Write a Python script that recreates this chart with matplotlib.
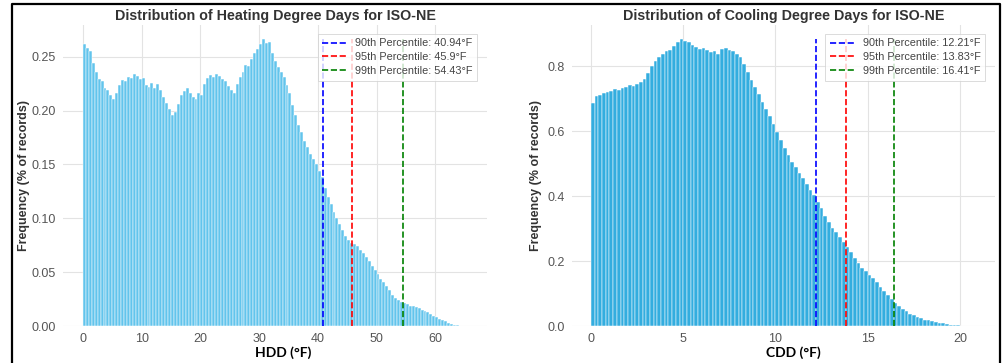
import numpy as np
import matplotlib.pyplot as plt
from matplotlib.lines import Line2D

# HDD histogram, bins of 0.5 F starting at 0 (frequency in % of records)
hdd_width = 0.5
hdd_freq = [
    0.262, 0.258, 0.255, 0.244, 0.236, 0.229, 0.227, 0.221, 0.219, 0.214,
    0.211, 0.216, 0.224, 0.228, 0.227, 0.231, 0.230, 0.234, 0.232, 0.229,
    0.230, 0.224, 0.222, 0.226, 0.221, 0.225, 0.219, 0.213, 0.207, 0.201,
    0.196, 0.199, 0.206, 0.214, 0.218, 0.221, 0.216, 0.213, 0.211, 0.216,
    0.214, 0.225, 0.230, 0.233, 0.231, 0.234, 0.232, 0.229, 0.227, 0.223,
    0.219, 0.216, 0.225, 0.231, 0.236, 0.242, 0.241, 0.248, 0.253, 0.257,
    0.262, 0.266, 0.263, 0.264, 0.253, 0.246, 0.240, 0.236, 0.231, 0.224,
    0.216, 0.205, 0.196, 0.187, 0.180, 0.172, 0.166, 0.160, 0.155, 0.150,
    0.144, 0.138, 0.128, 0.120, 0.113, 0.106, 0.100, 0.095, 0.089, 0.084,
    0.080, 0.077, 0.076, 0.074, 0.071, 0.068, 0.064, 0.060, 0.056, 0.052,
    0.048, 0.044, 0.041, 0.037, 0.033, 0.029, 0.026, 0.024, 0.022, 0.021,
    0.020, 0.019, 0.019, 0.018, 0.017, 0.015, 0.014, 0.013, 0.011, 0.0095,
    0.008, 0.0068, 0.0055, 0.0042, 0.0030, 0.0021, 0.0013, 0.0007, 0.0003,
]

# CDD histogram, bins of 0.2 F starting at 0
cdd_width = 0.2
cdd_freq = [
    0.685, 0.708, 0.712, 0.716, 0.720, 0.724, 0.728, 0.726, 0.733, 0.735,
    0.741, 0.738, 0.746, 0.751, 0.760, 0.778, 0.800, 0.815, 0.828, 0.836,
    0.845, 0.850, 0.862, 0.874, 0.882, 0.878, 0.874, 0.866, 0.860, 0.852,
    0.856, 0.849, 0.842, 0.846, 0.838, 0.852, 0.857, 0.850, 0.845, 0.838,
    0.828, 0.805, 0.783, 0.758, 0.737, 0.715, 0.690, 0.668, 0.645, 0.622,
    0.597, 0.573, 0.548, 0.525, 0.505, 0.488, 0.470, 0.455, 0.438, 0.420,
    0.403, 0.382, 0.362, 0.340, 0.320, 0.303, 0.288, 0.275, 0.260, 0.244,
    0.227, 0.210, 0.194, 0.180, 0.168, 0.158, 0.148, 0.135, 0.120, 0.108,
    0.095, 0.083, 0.071, 0.061, 0.053, 0.045, 0.038, 0.033, 0.028, 0.024,
    0.020, 0.017, 0.014, 0.012, 0.010, 0.008, 0.006, 0.004, 0.003, 0.002,
    0.001, 0.0006, 0.0003, 0.0002, 0.0001,
]

# percentiles
pct_names = ['90th', '95th', '99th']
pct_colors = ['blue', 'red', 'green']
hdd_pct = [40.94, 45.9, 54.43]
cdd_pct = [12.21, 13.83, 16.41]

plt.rcParams['font.family'] = ['Liberation Sans', 'DejaVu Sans']

fig = plt.figure(figsize=(10.03, 3.63), dpi=100)
ax1 = fig.add_axes([0.0628, 0.1019, 0.4227, 0.829])
ax2 = fig.add_axes([0.5703, 0.1019, 0.4217, 0.829])


def draw(ax, freq, width, pcts, title, face, xlim, xticks, yticks, yfmt, lpad):
    x = np.arange(len(freq)) * width
    ax.bar(x, freq, width=width, align='edge', color=face,
           edgecolor='white', linewidth=0.35, zorder=2)
    top = max(freq)
    for name, col, p in zip(pct_names, pct_colors, pcts):
        ax.vlines(p, 0, top, colors=col, linestyles='--', linewidth=1.2,
                  zorder=3, label=f'{name} Percentile: {p}°F')
    ax.set_xlim(xlim)
    ax.set_ylim(0, top * 1.05)
    ax.set_xticks(xticks)
    ax.set_yticks(yticks)
    ax.set_yticklabels([yfmt.format(v) for v in yticks])
    ax.grid(True, color='#e3e3e3', linewidth=0.8, zorder=0)
    ax.set_axisbelow(True)
    for s in ax.spines.values():
        s.set_visible(False)
    ax.tick_params(length=0, labelsize=9, labelcolor='#555555', pad=5)
    ax.set_title(title, fontsize=10.3, fontweight='bold', color='#333333', pad=4)
    ax.set_ylabel('Frequency (% of records)', fontsize=9, fontweight='bold',
                  color='#333333', labelpad=lpad)
    leg = ax.legend(loc='upper right', fontsize=7.8, frameon=True,
                    fancybox=False, handlelength=2.2, borderpad=0.45,
                    labelspacing=0.35, bbox_to_anchor=(0.99, 0.99))
    leg.get_frame().set_edgecolor('#cccccc')
    leg.get_frame().set_linewidth(0.6)
    for t in leg.get_texts():
        t.set_color('#444444')


draw(ax1, hdd_freq, hdd_width, hdd_pct,
     'Distribution of Heating Degree Days for ISO-NE', '#62c4ec', (-3.4, 68.8),
     [0, 10, 20, 30, 40, 50, 60], [0, 0.05, 0.10, 0.15, 0.20, 0.25], '{:.2f}', 1)
draw(ax2, cdd_freq, cdd_width, cdd_pct,
     'Distribution of Cooling Degree Days for ISO-NE', '#33addf', (-1.03, 21.9),
     [0, 5, 10, 15, 20], [0, 0.2, 0.4, 0.6, 0.8], '{:.1f}', 4)

# axis names pasted in below the plots
fig.text(0.282, 0.028, 'HDD (°F)', ha='center', va='center', fontsize=10,
         fontweight='bold', family=['Lato', 'DejaVu Sans'])
fig.text(0.791, 0.028, 'CDD (°F)', ha='center', va='center', fontsize=10,
         fontweight='bold', family=['Lato', 'DejaVu Sans'])

# black frame round the figure
fx = [12 / 1003, 12 / 1003, 1000 / 1003, 1000 / 1003]
fy = [0.0, 1 - 4 / 363, 1 - 4 / 363, 0.0]
fig.add_artist(Line2D(fx, fy, transform=fig.transFigure, color='black',
                      linewidth=1.6))

fig.savefig('out.png', dpi=100)
